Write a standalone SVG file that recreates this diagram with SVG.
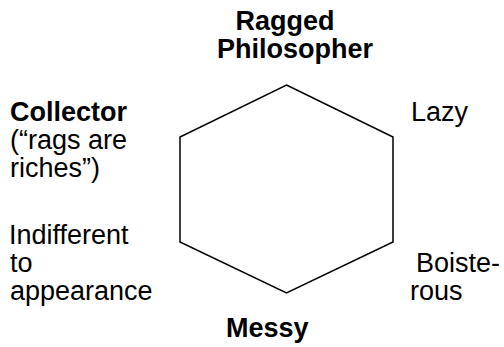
<svg xmlns="http://www.w3.org/2000/svg" width="504" height="347" viewBox="0 0 504 347">
<style>
text{font-family:"Liberation Sans",Arial,sans-serif;font-size:27px;fill:#000}
.b{font-weight:bold}
.hex{fill:none;stroke:#000;stroke-width:1.5}
</style>
<rect width="504" height="347" fill="#fff"/>
<g id="hexagon">
<polygon class="hex" points="286.5,85 393,137 393,242 286.5,293 180,242 180,137"/>
</g>
<g id="connectors"/>
<g id="ragged-philosopher">
<text class="b" x="235.5" y="30">Ragged</text>
<text class="b" x="217" y="58">Philosopher</text>
</g>
<g id="collector">
<text class="b" x="10" y="121">Collector</text>
<text x="10" y="149">(“rags are</text>
<text x="10" y="177">riches”)</text>
</g>
<g id="indifferent">
<text x="9" y="244">Indifferent</text>
<text x="10" y="272">to</text>
<text x="10" y="300">appearance</text>
</g>
<g id="lazy">
<text x="411" y="121">Lazy</text>
</g>
<g id="boisterous">
<text x="416" y="272">Boiste-</text>
<text x="410" y="300">rous</text>
</g>
<g id="messy">
<text class="b" x="226" y="337">Messy</text>
</g>
</svg>
